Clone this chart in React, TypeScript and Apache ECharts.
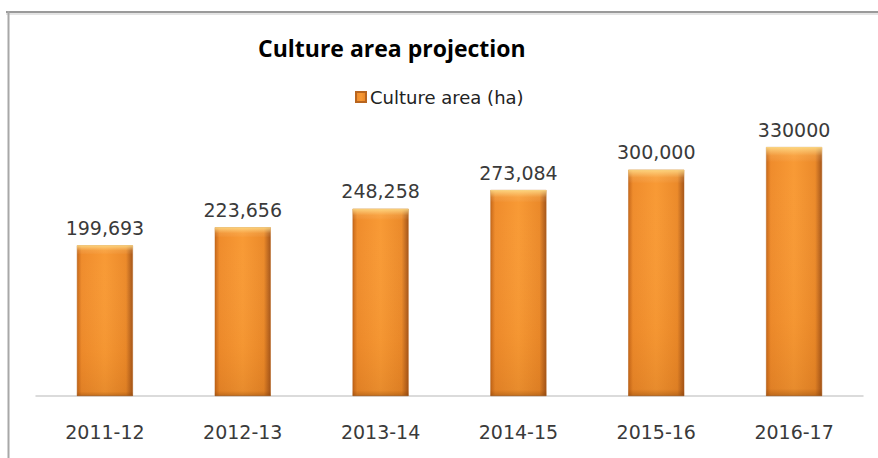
import React, { useEffect, useRef } from "react";
import * as echarts from "echarts";

const categories = ["2011-12", "2012-13", "2013-14", "2014-15", "2015-16", "2016-17"];
const values = [199693, 223656, 248258, 273084, 300000, 330000];
const labelTexts = ["199,693", "223,656", "248,258", "273,084", "300,000", "330000"];
const seriesName = "Culture area (ha)";
const titleText = "Culture area projection";

export default function App() {
  const ref = useRef<HTMLDivElement>(null);
  useEffect(() => {
    if (!ref.current) return;
    const chart = echarts.init(ref.current, null, { renderer: "svg" });
    const barGradient = new echarts.graphic.LinearGradient(0, 0, 1, 0, [
      { offset: 0, color: "#c8691a" },
      { offset: 0.08, color: "#ef8c2c" },
      { offset: 0.5, color: "#f89a35" },
      { offset: 0.88, color: "#eb8a2a" },
      { offset: 1, color: "#a5561a" },
    ]);
    const shade = new echarts.graphic.LinearGradient(0, 0, 0, 1, [
      { offset: 0, color: "rgba(255,225,140,0.85)" },
      { offset: 0.035, color: "rgba(255,220,150,0.15)" },
      { offset: 0.06, color: "rgba(255,255,255,0)" },
      { offset: 0.7, color: "rgba(180,80,0,0.05)" },
      { offset: 0.97, color: "rgba(140,60,0,0.15)" },
      { offset: 1, color: "rgba(110,50,0,0.4)" },
    ]);
    chart.setOption({
      animation: false,
      backgroundColor: "#ffffff",
      title: {
        text: titleText,
        left: 253,
        top: 31,
        textStyle: { fontFamily: "Open Sans", fontWeight: "bold", fontSize: 23, color: "#000000" },
      },
      legend: {
        data: [seriesName],
        left: 350,
        top: 83,
        icon: "rect",
        itemWidth: 10,
        itemHeight: 10,
        itemGap: 5,
        textStyle: { fontFamily: "DejaVu Sans", fontSize: 18, color: "#222222", padding: [0, 0, 0, -1] },
      },
      grid: { left: 36, right: 15, top: 132, bottom: 62, containLabel: false },
      xAxis: {
        type: "category",
        data: categories,
        axisLine: { lineStyle: { color: "#cfcfcf", width: 1.5 } },
        axisTick: { show: false },
        axisLabel: { fontFamily: "DejaVu Sans", fontSize: 19, color: "#3a3a3a", margin: 26 },
      },
      yAxis: {
        type: "value",
        min: 0,
        max: 350000,
        show: false,
        splitLine: { show: false },
      },
      series: [
        {
          name: seriesName,
          type: "bar",
          data: values,
          barWidth: 56,
          itemStyle: { color: barGradient, borderColor: "#b8651f", borderWidth: 0.5 },
          label: {
            show: true,
            position: "top",
            distance: 8,
            fontFamily: "DejaVu Sans",
            fontSize: 19,
            color: "#3a3a3a",
            formatter: (p: any) => labelTexts[p.dataIndex],
          },
        },
        {
          name: "shade",
          type: "bar",
          data: values,
          barWidth: 56,
          barGap: "-100%",
          silent: true,
          itemStyle: { color: shade },
          label: { show: false },
        },
      ],
      graphic: [
        { type: "line", shape: { x1: 6, y1: 12, x2: 878, y2: 12 }, style: { stroke: "#9a9a9a", lineWidth: 2 } },
        { type: "line", shape: { x1: 6, y1: 14, x2: 878, y2: 14 }, style: { stroke: "#e4e4e4", lineWidth: 2 } },
        { type: "line", shape: { x1: 8.5, y1: 11, x2: 8.5, y2: 458 }, style: { stroke: "#a8a8a8", lineWidth: 2 } },
      ],
    });
    return () => chart.dispose();
  }, []);
  return <div ref={ref} style={{ position: "absolute", left: 0, top: 0, width: 878, height: 458 }} />;
}
